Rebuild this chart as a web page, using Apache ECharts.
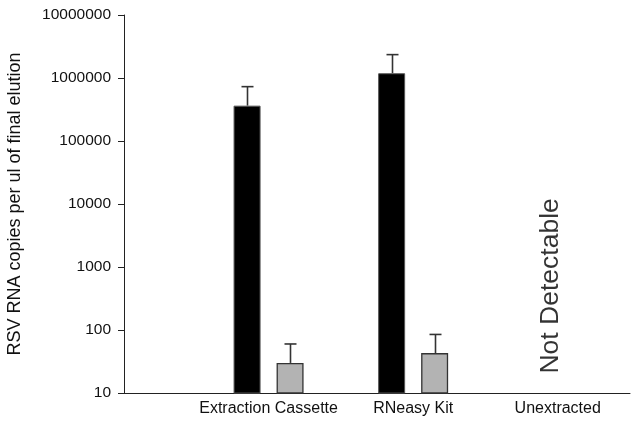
<!DOCTYPE html>
<html>
<head>
<meta charset="utf-8">
<script src="https://cdn.jsdelivr.net/npm/echarts@6/dist/echarts.min.js"></script>
<style>
  html, body { margin: 0; padding: 0; background: #fff; }
  #chart { width: 639px; height: 427px; }
</style>
</head>
<body>
<div id="chart"></div>
<script>
// ---- data ----
const categories = ['Extraction Cassette', 'RNeasy Kit', 'Unextracted'];
const categoryPos = [1, 2, 3];
const blackMean = [364000, 1190000, null];
const blackErrTop = [729000, 2350000, null];
const grayMean = [30, 43, null];
const grayErrTop = [60, 85, null];
const yTicks = [10, 100, 1000, 10000, 100000, 1000000, 10000000];
const noteText = 'Not Detectable';
const notePos = [3, 520];

// ---- style ----
const FONT = '"Liberation Sans", Arial, sans-serif';
const BAR_W = 27;
const GAP_PX = 16;
const OFFSET = (BAR_W + GAP_PX) / 2;

function pairs(vals) {
  return categoryPos.map((x, i) => vals[i] == null ? null : [x, vals[i]]).filter(d => d);
}
function errData(mean, top) {
  return categoryPos.map((x, i) => mean[i] == null ? null : [x, mean[i], top[i]]).filter(d => d);
}
function errSeries(mean, top, shift) {
  return {
    type: 'custom',
    data: errData(mean, top),
    encode: { x: 0, y: [1, 2] },
    z: 1,
    silent: true,
    renderItem: function (params, api) {
      const p0 = api.coord([api.value(0), api.value(1)]);
      const p1 = api.coord([api.value(0), api.value(2)]);
      const cx = Math.round(p0[0] + shift) + 0.5;
      const style = { stroke: '#333', lineWidth: 1.6 };
      return {
        type: 'group',
        children: [
          { type: 'line', shape: { x1: cx, y1: p0[1], x2: cx, y2: p1[1] }, style: style },
          { type: 'line', shape: { x1: cx - 6, y1: p1[1], x2: cx + 6, y2: p1[1] }, style: style }
        ]
      };
    }
  };
}

const chart = echarts.init(document.getElementById('chart'));
chart.setOption({
  animation: false,
  backgroundColor: '#fff',
  grid: { left: 124, right: 9, top: 15, bottom: 34, containLabel: false, outerBoundsMode: 'none' },
  xAxis: {
    type: 'value',
    min: 0, max: 3.5, interval: 1,
    splitLine: { show: false },
    axisTick: { show: false },
    axisLine: { show: true, onZero: false, lineStyle: { color: '#222', width: 1 } },
    axisLabel: {
      color: '#111', fontFamily: FONT, fontSize: 16, margin: 8,
      showMaxLabel: false,
      formatter: function (v) {
        const i = categoryPos.indexOf(v);
        return i >= 0 ? categories[i] : '';
      }
    }
  },
  yAxis: {
    type: 'log',
    logBase: 10,
    min: yTicks[0], max: yTicks[yTicks.length - 1],
    splitLine: { show: false },
    axisLine: { show: true, lineStyle: { color: '#222', width: 1 } },
    axisTick: { show: true, inside: false, length: 6, lineStyle: { color: '#222' } },
    minorTick: { show: false },
    axisLabel: {
      color: '#111', fontFamily: FONT, fontSize: 15.5, margin: 13,
      formatter: function (v) { return String(Math.round(v)); }
    },
    name: 'RSV RNA copies per ul of final elution',
    nameLocation: 'middle',
    nameGap: 100,
    nameTextStyle: { color: '#111', fontFamily: FONT, fontSize: 18 }
  },
  series: [
    {
      type: 'bar',
      data: pairs(blackMean),
      barWidth: BAR_W,
      barGap: (GAP_PX / BAR_W * 100) + '%',
      itemStyle: { color: '#000', borderColor: '#555', borderWidth: 1 },
      z: 2
    },
    {
      type: 'bar',
      data: pairs(grayMean),
      barWidth: BAR_W,
      itemStyle: { color: '#b3b3b3', borderColor: '#333', borderWidth: 1.3 },
      z: 2
    },
    errSeries(blackMean, blackErrTop, -OFFSET),
    errSeries(grayMean, grayErrTop, OFFSET),
    {
      type: 'scatter',
      data: [notePos],
      symbolSize: 0,
      silent: true,
      label: {
        show: true,
        position: 'inside',
        rotate: 90,
        offset: [-1, -7],
        formatter: noteText,
        color: '#000',
        fontFamily: FONT,
        fontSize: 26.5
      }
    }
  ]
});
</script>
</body>
</html>
